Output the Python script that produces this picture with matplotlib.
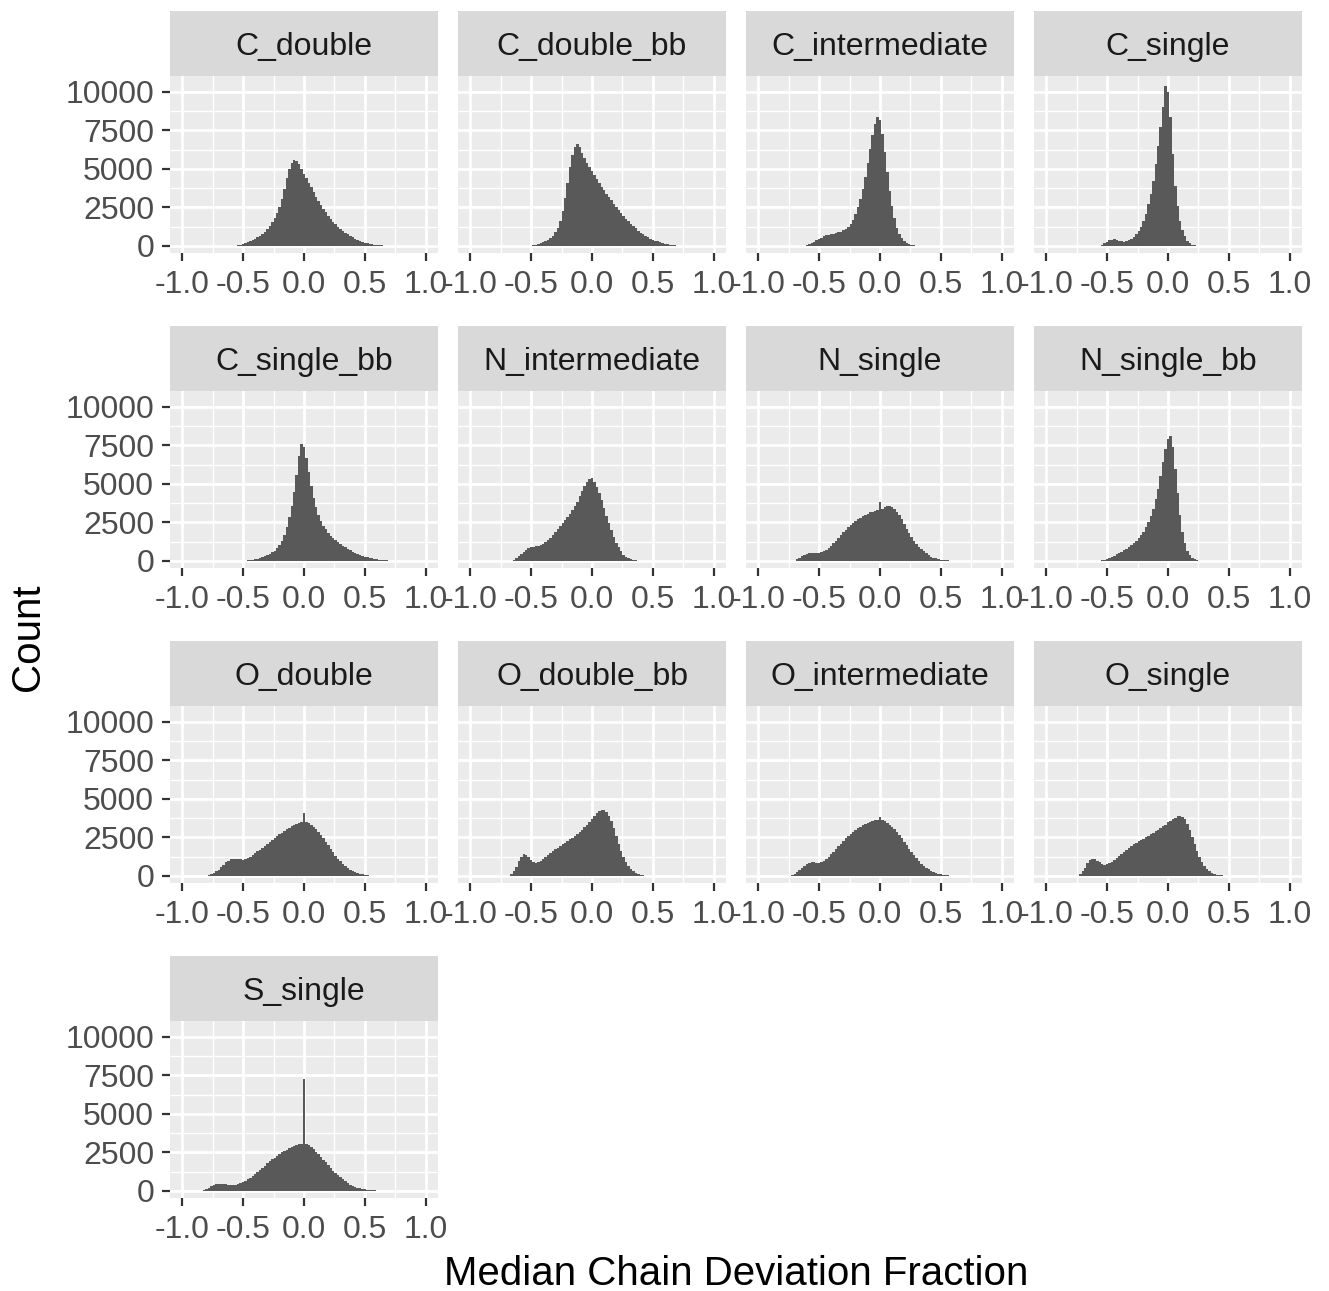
import numpy as np
import matplotlib
matplotlib.use('Agg')
import matplotlib.pyplot as plt

# facet names, in ggplot facet_wrap order (4 columns)
panel_names = ['C_double', 'C_double_bb', 'C_intermediate', 'C_single',
               'C_single_bb', 'N_intermediate', 'N_single', 'N_single_bb',
               'O_double', 'O_double_bb', 'O_intermediate', 'O_single',
               'S_single']

# histogram counts, bins of 0.02, first bin centre given in panel_starts
c_double = [20, 50, 90, 130, 180, 240, 310, 390, 470, 560, 660, 790, 930, 1100,
            1300, 1530, 1800, 2150, 2550, 3050, 3700, 4400, 5000, 5400, 5600,
            5550, 5300, 5000, 4700, 4400, 4100, 3800, 3500, 3200, 2900, 2650,
            2400, 2180, 1960, 1770, 1580, 1410, 1250, 1110, 980, 860, 750, 650,
            560, 470, 400, 330, 270, 220, 180, 145, 115, 90, 70, 55, 42, 32, 24,
            18, 13, 9, 6]
c_double_bb = [30, 60, 90, 130, 180, 240, 310, 400, 520, 680, 900, 1200, 1650,
               2300, 3100, 4100, 5100, 5900, 6400, 6600, 6400, 6050, 5700, 5400,
               5100, 4850, 4600, 4350, 4100, 3850, 3620, 3400, 3180, 2960, 2750,
               2550, 2350, 2150, 1960, 1780, 1600, 1440, 1290, 1140, 1000, 870,
               750, 650, 560, 480, 410, 350, 295, 245, 200, 160, 125, 95, 70, 50,
               32, 18]
c_intermediate = [30, 70, 130, 200, 280, 370, 460, 550, 620, 690, 740, 780, 810,
                  840, 880, 940, 1020, 1120, 1260, 1450, 1700, 2050, 2500, 3050,
                  3700, 4500, 5400, 6300, 7200, 7900, 8400, 8200, 7300, 6100, 4800,
                  3600, 2600, 1800, 1200, 780, 500, 320, 200, 120, 70, 40, 20, 10]
c_single = [20, 80, 180, 280, 360, 420, 440, 420, 350, 300, 290, 320, 380, 470,
            590, 750, 960, 1230, 1600, 2100, 2700, 3400, 4200, 5300, 6500, 7700,
            9000, 10400, 10000, 8400, 6000, 3900, 2600, 1600, 1050, 650, 350, 170,
            90, 50, 30, 20, 14, 10, 6, 4]
c_single_bb = [20, 40, 60, 90, 120, 160, 200, 250, 310, 380, 460, 560, 680, 830,
               1020, 1300, 1700, 2200, 2850, 3600, 4500, 5600, 6800, 7600, 7400,
               6700, 5800, 4900, 4100, 3500, 3000, 2600, 2300, 2050, 1830, 1640,
               1480, 1340, 1210, 1090, 980, 880, 780, 690, 610, 530, 460, 400, 340,
               290, 245, 205, 170, 140, 112, 88, 68, 52, 38, 27, 18, 10]
n_intermediate = [30, 90, 180, 300, 450, 600, 720, 820, 880, 920, 950, 990, 1050,
                  1130, 1230, 1350, 1500, 1680, 1880, 2080, 2280, 2480, 2680, 2880,
                  3080, 3300, 3550, 3850, 4200, 4550, 4900, 5150, 5350, 5400, 5150,
                  4800, 4400, 3950, 3450, 2950, 2450, 2000, 1580, 1200, 880, 620,
                  420, 270, 170, 100, 60, 35, 20, 10]
n_single = [30, 100, 200, 300, 400, 470, 510, 520, 510, 500, 510, 560, 640, 740,
            860, 1000, 1160, 1330, 1520, 1720, 1880, 2030, 2180, 2320, 2460, 2580,
            2700, 2810, 2910, 3000, 3080, 3150, 3200, 3240, 3280, 3850, 3400, 3520,
            3580, 3580, 3500, 3380, 3200, 2980, 2700, 2400, 2100, 1800, 1550, 1300,
            1100, 920, 760, 620, 490, 380, 290, 220, 165, 125, 95, 70, 55, 42, 32,
            24, 17, 12, 7]
n_single_bb = [20, 50, 90, 140, 200, 270, 350, 430, 520, 610, 710, 810, 920, 1040,
               1170, 1320, 1490, 1680, 1900, 2180, 2500, 2900, 3400, 4000, 4700,
               5500, 6400, 7300, 7900, 8100, 7400, 6000, 4400, 3000, 1900, 1150,
               650, 360, 190, 100, 50, 25, 12]
o_double = [20, 60, 120, 200, 300, 420, 560, 720, 880, 1000, 1080, 1120, 1130,
            1110, 1080, 1070, 1100, 1170, 1260, 1370, 1480, 1600, 1720, 1850, 1980,
            2100, 2220, 2340, 2460, 2580, 2700, 2810, 2920, 3030, 3130, 3220, 3300,
            3370, 3430, 3480, 4100, 3480, 3420, 3330, 3200, 3040, 2860, 2660, 2440,
            2220, 1990, 1760, 1540, 1330, 1130, 950, 790, 650, 520, 410, 320, 250,
            190, 140, 100, 70, 48, 32, 20, 12, 6]
o_double_bb = [30, 120, 300, 600, 950, 1250, 1400, 1380, 1250, 1050, 900, 850, 900,
               1000, 1120, 1250, 1380, 1500, 1620, 1740, 1850, 1960, 2060, 2160,
               2260, 2370, 2480, 2600, 2730, 2870, 3010, 3160, 3320, 3490, 3680,
               3880, 4060, 4200, 4300, 4280, 4150, 3900, 3550, 3100, 2600, 2100,
               1650, 1250, 920, 650, 450, 300, 195, 125, 80, 50, 30, 18, 10]
o_intermediate = [20, 60, 130, 230, 360, 500, 640, 760, 850, 900, 900, 870, 860,
                  900, 980, 1100, 1240, 1400, 1570, 1750, 1930, 2110, 2280, 2440,
                  2590, 2730, 2860, 2980, 3090, 3190, 3280, 3360, 3430, 3500, 3560,
                  3610, 3650, 3800, 3640, 3560, 3460, 3340, 3200, 3040, 2860, 2660,
                  2450, 2230, 2000, 1770, 1550, 1340, 1140, 960, 800, 660, 540, 430,
                  340, 265, 205, 155, 115, 85, 62, 45, 32, 22, 15, 10, 6]
o_single = [30, 120, 300, 550, 820, 1020, 1120, 1100, 1000, 880, 780, 740, 760,
            830, 930, 1050, 1180, 1310, 1440, 1570, 1700, 1830, 1950, 2060, 2160,
            2250, 2340, 2430, 2520, 2610, 2700, 2800, 2900, 3000, 3110, 3220, 3330,
            3500, 3560, 3680, 3790, 3870, 3900, 3850, 3680, 3400, 3000, 2550, 2080,
            1640, 1250, 920, 660, 460, 310, 200, 130, 85, 55, 35, 20, 12, 6]
s_single = [20, 60, 130, 220, 320, 400, 450, 470, 470, 450, 430, 410, 390, 380,
            390, 430, 500, 580, 670, 760, 860, 980, 1100, 1230, 1370, 1510, 1650,
            1790, 1920, 2050, 2170, 2290, 2400, 2500, 2600, 2690, 2780, 2860, 2930,
            2990, 3040, 3080, 7300, 3050, 2960, 2840, 2700, 2550, 2390, 2220, 2040,
            1860, 1680, 1500, 1330, 1170, 1020, 880, 750, 630, 520, 420, 340, 270,
            210, 165, 130, 100, 78, 60, 46, 35, 27, 20, 15, 11, 8, 6, 4]

panel_counts = [c_double, c_double_bb, c_intermediate, c_single,
                c_single_bb, n_intermediate, n_single, n_single_bb,
                o_double, o_double_bb, o_intermediate, o_single, s_single]
panel_starts = [-0.56, -0.50, -0.62, -0.56,
                -0.48, -0.66, -0.70, -0.56,
                -0.80, -0.68, -0.74, -0.74, -0.84]
bin_width = 0.02

x_ticks = [-1.0, -0.5, 0.0, 0.5, 1.0]
x_tick_labels = ['-1.0', '-0.5', '0.0', '0.5', '1.0']
x_minor = [-0.75, -0.25, 0.25, 0.75]
y_ticks = [0, 2500, 5000, 7500, 10000]
y_minor = [1250, 3750, 6250, 8750]

plt.rcParams['font.family'] = ['Liberation Sans', 'DejaVu Sans']
plt.rcParams['axes.unicode_minus'] = False

W, H = 1329, 1291
fig = plt.figure(figsize=(W / 100, H / 100), dpi=100)


def frac(x0, y0, w, h):
    # pixel box (top-left origin) -> figure fraction
    return [x0 / W, 1 - (y0 + h) / H, w / W, h / H]


for i, name in enumerate(panel_names):
    r, c = divmod(i, 4)
    left = 170 + 288 * c
    top = 11 + 315 * r

    # strip
    sax = fig.add_axes(frac(left, top, 268, 65))
    sax.set_facecolor('#D9D9D9')
    sax.set_xticks([])
    sax.set_yticks([])
    for s in sax.spines.values():
        s.set_visible(False)
    sax.text(0.5, 0.45, name, ha='center', va='center', fontsize=23,
             color='#1A1A1A', transform=sax.transAxes)

    # panel
    ax = fig.add_axes(frac(left, top + 65, 268, 177))
    ax.set_facecolor('#EBEBEB')
    for s in ax.spines.values():
        s.set_visible(False)
    ax.set_axisbelow(True)
    ax.set_xticks(x_ticks)
    ax.set_xticklabels(x_tick_labels)
    ax.set_xticks(x_minor, minor=True)
    ax.set_yticks(y_ticks)
    ax.set_yticks(y_minor, minor=True)
    ax.grid(True, which='major', color='white', lw=2.0)
    ax.grid(True, which='minor', color='white', lw=1.0)
    ax.tick_params(which='minor', length=0)
    ax.tick_params(which='major', length=5.5, width=1.6, color='#333333',
                   labelsize=23, labelcolor='#4D4D4D')
    ax.tick_params(axis='x', which='major', pad=7)
    ax.tick_params(axis='y', which='major', pad=6)
    if c != 0:
        ax.tick_params(axis='y', which='major', length=0, labelleft=False)

    counts = np.array(panel_counts[i])
    edges = panel_starts[i] - bin_width / 2 + bin_width * np.arange(len(counts) + 1)
    ax.stairs(counts, edges, fill=True, color='#595959', lw=0)

    ax.set_xlim(-1.1, 1.1)
    ax.set_ylim(-455, 11039)

fig.text(28 / W, 1 - 637 / H, 'Count', rotation=90, ha='center', va='center',
         fontsize=29, color='black')
fig.text(736 / W, 1 - 1274 / H, 'Median Chain Deviation Fraction',
         ha='center', va='center', fontsize=29, color='black')

fig.savefig('out.png', dpi=100)
